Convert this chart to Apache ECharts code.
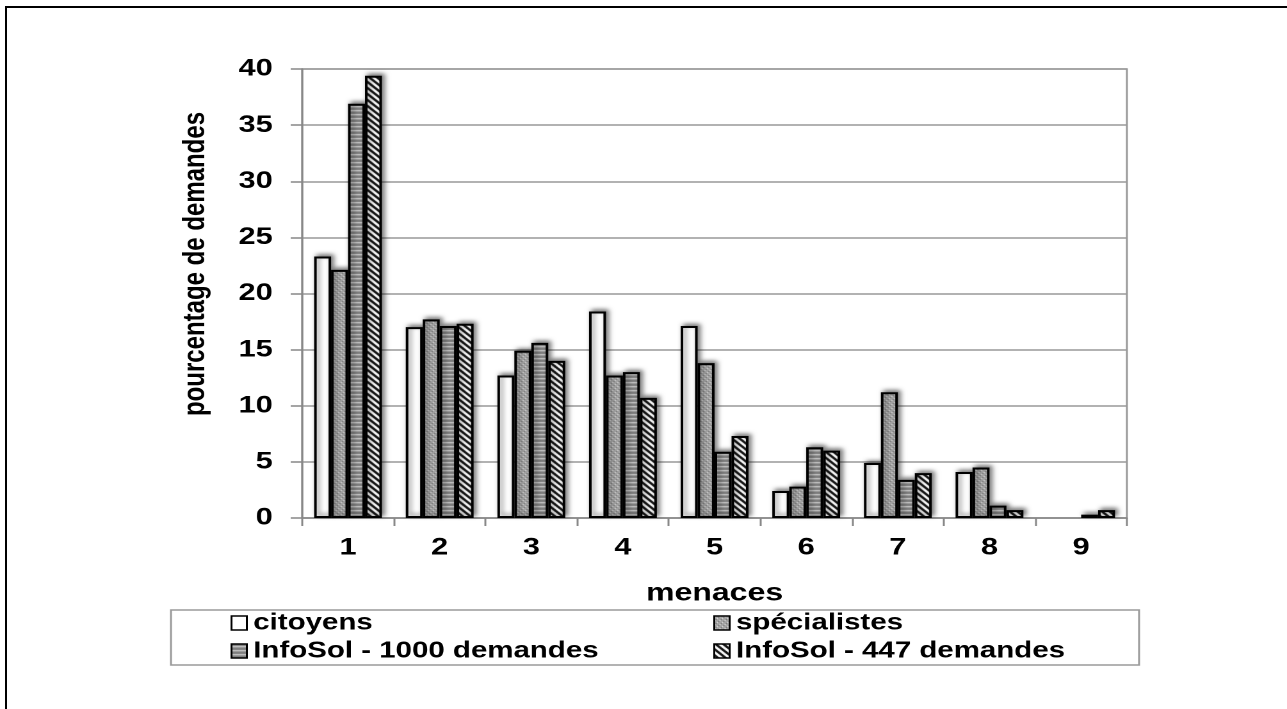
<!DOCTYPE html>
<html lang="fr">
<head>
<meta charset="UTF-8" />
<title>menaces</title>
<style>
  html, body {
    margin: 0;
    padding: 0;
    background: #fff;
    overflow: hidden;
  }
  /* the reference is a horizontally stretched picture, so the chart is stretched too */
  #chart {
    position: absolute;
    left: 0;
    top: 0;
    width: 1005px;
    height: 709px;
    transform: scaleX(1.2806);
    transform-origin: 0 0;
  }
  #frame {
    position: absolute;
    left: 5px;
    top: 6px;
    width: 1400px;
    height: 800px;
    border-left: 2.5px solid #000;
    border-top: 2.5px solid #000;
    pointer-events: none;
  }
</style>
</head>
<body>
<div id="chart"></div>
<div id="frame"></div>

<script src="https://cdn.jsdelivr.net/npm/echarts@6/dist/echarts.min.js"></script>
<script>
  // données (null = pas de barre)
  const menaces = ['1', '2', '3', '4', '5', '6', '7', '8', '9'];
  const citoyens = [23.3, 17.0, 12.7, 18.4, 17.1, 2.4, 4.9, 4.1, null];
  const specialistes = [22.1, 17.7, 14.9, 12.7, 13.8, 2.8, 11.2, 4.5, null];
  const infoSol1000 = [36.9, 17.1, 15.6, 13.0, 5.9, 6.3, 3.4, 1.1, 0.3];
  const infoSol447 = [39.4, 17.3, 14.0, 10.7, 7.3, 6.0, 4.0, 0.7, 0.7];
  const seriesNames = ['citoyens', 'spécialistes', 'InfoSol - 1000 demandes', 'InfoSol - 447 demandes'];

  const FONT = '"Liberation Sans", Arial, sans-serif';

  // motifs de remplissage
  function tile(w, h, paint) {
    const c = document.createElement('canvas');
    c.width = w;
    c.height = h;
    paint(c.getContext('2d'));
    return c;
  }

  const dots = tile(4, 4, ctx => {
    ctx.fillStyle = '#a4a4a4';
    ctx.fillRect(0, 0, 4, 4);
    ctx.fillStyle = '#e2e2e2';
    ctx.fillRect(0, 0, 1, 1);
    ctx.fillRect(2, 2, 1, 1);
    ctx.fillStyle = '#6e6e6e';
    ctx.fillRect(1, 3, 1, 1);
    ctx.fillRect(3, 1, 1, 1);
  });

  const hstripes = tile(4, 4, ctx => {
    const rows = ['#7c7c7c', '#7c7c7c', '#d0d0d0', '#999999'];
    rows.forEach((col, i) => {
      ctx.fillStyle = col;
      ctx.fillRect(0, i, 4, 1);
    });
  });

  const diag = tile(6, 6, ctx => {
    ctx.fillStyle = '#fff';
    ctx.fillRect(0, 0, 6, 6);
    ctx.fillStyle = '#111';
    for (let y = 0; y < 6; y++) {
      for (let x = 0; x < 6; x++) {
        if (((x - y) % 6 + 6) % 6 < 3) ctx.fillRect(x, y, 1, 1);
      }
    }
  });

  const fills = [
    '#ffffff',
    { image: dots, repeat: 'repeat' },
    { image: hstripes, repeat: 'repeat' },
    { image: diag, repeat: 'repeat' }
  ];
  const values = [citoyens, specialistes, infoSol1000, infoSol447];

  const chart = echarts.init(document.getElementById('chart'), null, { devicePixelRatio: 2 });

  const legendCommon = {
    orient: 'vertical',
    top: 611,
    padding: 0,
    itemGap: 4,
    itemWidth: 12,
    itemHeight: 14,
    icon: 'rect',
    selectedMode: false,
    itemStyle: { borderColor: '#000', borderWidth: 1.5, shadowBlur: 0, shadowOffsetX: 0, shadowOffsetY: 0 },
    textStyle: { fontFamily: FONT, fontWeight: 'bold', fontSize: 23, color: '#000', lineHeight: 24 }
  };

  const option = {
    animation: false,
    backgroundColor: '#fff',
    grid: {
      left: 236,
      right: 125,
      top: 69,
      bottom: 191,
      show: true,
      borderColor: '#999',
      borderWidth: 1.5
    },
    legend: [
      Object.assign({ left: 180, data: [seriesNames[0], seriesNames[2]] }, legendCommon),
      Object.assign({ left: 557, data: [seriesNames[1], seriesNames[3]] }, legendCommon)
    ],
    xAxis: {
      type: 'category',
      data: menaces,
      name: 'menaces',
      nameLocation: 'middle',
      nameGap: 63,
      nameTextStyle: { fontFamily: FONT, fontWeight: 'bold', fontSize: 25, color: '#000' },
      axisLine: { lineStyle: { color: '#888', width: 1.5 } },
      axisTick: { show: true, length: 8, lineStyle: { color: '#888', width: 1.5 } },
      axisLabel: { margin: 18, fontFamily: FONT, fontWeight: 'bold', fontSize: 24, color: '#000' },
      splitLine: { show: false }
    },
    yAxis: {
      type: 'value',
      min: 0,
      max: 40,
      interval: 5,
      axisLine: { show: true, lineStyle: { color: '#888', width: 1.5 } },
      axisTick: { show: true, length: 9, lineStyle: { color: '#888', width: 1.5 } },
      axisLabel: { margin: 23, fontFamily: FONT, fontWeight: 'bold', fontSize: 24, color: '#000' },
      splitLine: { lineStyle: { color: '#999', width: 1.5 } }
    },
    graphic: [
      {
        type: 'rect',
        z: 0,
        shape: { x: 133.5, y: 610, width: 756, height: 55 },
        style: { fill: 'none', stroke: '#9a9a9a', lineWidth: 1.5 }
      },
      {
        type: 'text',
        x: 153,
        y: 264,
        rotation: Math.PI / 2,
        style: {
          text: 'pourcentage de demandes',
          fontFamily: FONT,
          fontWeight: 'bold',
          fontSize: 24,
          fill: '#000',
          align: 'center',
          verticalAlign: 'middle'
        }
      }
    ],
    series: seriesNames.map((name, i) => ({
      name: name,
      type: 'bar',
      data: values[i],
      barGap: '0%',
      barCategoryGap: '26%',
      itemStyle: {
        color: fills[i],
        borderColor: '#000',
        borderWidth: 2,
        shadowBlur: 4,
        shadowColor: 'rgba(0,0,0,0.5)',
        shadowOffsetX: 2,
        shadowOffsetY: -2
      }
    }))
  };

  chart.setOption(option);
</script>
</body>
</html>
